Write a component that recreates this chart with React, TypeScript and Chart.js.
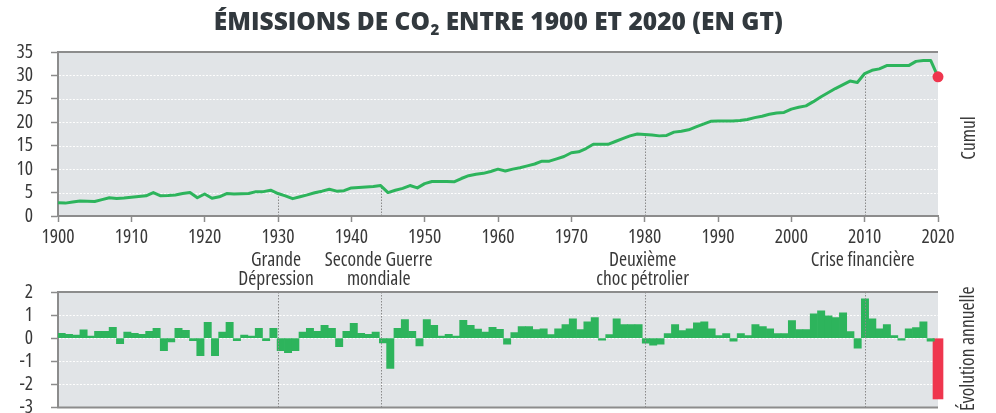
import React, { useEffect, useRef } from "react";
import { Chart, registerables } from "chart.js";

Chart.register(...registerables);

// ---------- DATA ----------
const startYear = 1900;
const endYear = 2020;
const years: number[] = Array.from({ length: endYear - startYear + 1 }, (_, i) => startYear + i);

// Annual emissions (Gt CO2), 1900 -> 2020
const emissions: number[] = [
  2.85, 2.75, 3.0, 3.2, 3.15, 3.1, 3.5, 3.9, 3.75, 3.85,
  4.0, 4.15, 4.3, 5.0, 4.3, 4.35, 4.5, 4.8, 5.0, 3.9,
  4.7, 3.8, 4.1, 4.8, 4.7, 4.75, 4.8, 5.2, 5.2, 5.5,
  4.8, 4.3, 3.7, 4.1, 4.5, 4.95, 5.3, 5.7, 5.3, 5.4,
  6.0, 6.1, 6.2, 6.3, 6.5, 5.0, 5.5, 5.9, 6.5, 6.0,
  6.9, 7.35, 7.35, 7.35, 7.3, 8.0, 8.6, 8.9, 9.1, 9.5,
  10.0, 9.6, 10.0, 10.3, 10.7, 11.1, 11.7, 11.7, 12.2, 12.7,
  13.5, 13.7, 14.4, 15.3, 15.3, 15.3, 15.9, 16.5, 17.1, 17.5,
  17.4, 17.3, 17.1, 17.2, 17.9, 18.1, 18.4, 19.0, 19.6, 20.2,
  20.3, 20.3, 20.3, 20.4, 20.6, 21.0, 21.3, 21.7, 22.0, 22.1,
  22.8, 23.2, 23.5, 24.4, 25.4, 26.3, 27.2, 28.0, 28.8, 28.5,
  30.4, 31.1, 31.4, 32.1, 32.1, 32.1, 32.1, 33.0, 33.2, 33.2,
  29.7,
];

// Annual change (Gt), 1900 -> 2019 (green), 2020 (red)
const annualChange: number[] = [
  0.21, 0.17, 0.13, 0.36, 0.09, 0.3, 0.3, 0.47, -0.24, 0.26,
  0.21, 0.17, 0.3, 0.43, -0.54, -0.16, 0.43, 0.34, -0.11, -0.76,
  0.69, -0.76, 0.26, 0.69, -0.11, 0.13, 0.09, 0.43, -0.11, 0.43,
  -0.54, -0.63, -0.54, 0.26, 0.43, 0.3, 0.56, 0.43, -0.37, 0.3,
  0.64, 0.21, 0.17, 0.26, -0.2, -1.31, 0.43, 0.81, 0.3, -0.33,
  0.81, 0.56, 0.09, 0.17, 0.09, 0.77, 0.56, 0.39, 0.26, 0.47,
  0.38, -0.26, 0.24, 0.5, 0.5, 0.37, 0.41, 0.16, 0.41, 0.59,
  0.84, 0.37, 0.71, 0.89, -0.09, 0.16, 0.84, 0.59, 0.59, 0.59,
  -0.21, -0.3, -0.26, 0.2, 0.59, 0.33, 0.41, 0.67, 0.71, 0.41,
  0.11, 0.2, -0.13, 0.2, 0.11, 0.59, 0.5, 0.41, 0.2, 0.2,
  0.76, 0.37, 0.37, 1.06, 1.19, 0.97, 0.89, 1.1, 0.29, -0.43,
  1.7, 0.84, 0.41, 0.59, 0.11, -0.09, 0.41, 0.46, 0.71, -0.13,
];
const lastYearChange = -2.63;

const eventYears: number[] = [1930, 1944, 1980, 2010];
const eventLabels: string[][] = [
  ["Grande", "Dépression"],
  ["Seconde Guerre", "mondiale"],
  ["Deuxième", "choc pétrolier"],
  ["Crise financière"],
];

const titleParts = ["ÉMISSIONS DE CO", "2", " ENTRE 1900 ET 2020 (EN GT)"];
const topAxisLabel = "Cumul";
const bottomAxisLabel = "Évolution annuelle";

// ---------- STYLE ----------
const FONT = '"Open Sans", "Roboto Condensed", sans-serif';
const FONT_STRETCH = "condensed";
const FONT_SIZE = 19.5;
const CTX_FONT = `${FONT_STRETCH} ${FONT_SIZE}px ${FONT}`;
const TITLE_FONT = '"Open Sans", "DejaVu Sans", sans-serif';
const TEXT = "#383838";
const TITLE_COLOR = "#32393e";
const PLOT_BG = "#e1e4e7";
const AXIS = "#8c8c8c";
const GRID = "rgba(255,255,255,0.95)";
const EVENT = "#8a8a8a";
const GREEN = "#2db45c";
const RED = "#ef364e";

function seg(ctx: CanvasRenderingContext2D, x1: number, y1: number, x2: number, y2: number) {
  ctx.beginPath();
  ctx.moveTo(x1, y1);
  ctx.lineTo(x2, y2);
  ctx.stroke();
}

const fixWidth = (w: number) => (scale: any) => {
  scale.width = w;
  scale.paddingTop = 0;
  scale.paddingBottom = 0;
};
const fixHeight = (h: number) => (scale: any) => {
  scale.height = h;
  scale.paddingLeft = 0;
  scale.paddingRight = 0;
};

const tickFont = { family: FONT, size: FONT_SIZE, weight: FONT_STRETCH as any };

const topDecor = {
  id: "topDecor",
  beforeDraw(chart: any) {
    const { ctx, chartArea: a } = chart;
    ctx.save();
    ctx.fillStyle = PLOT_BG;
    ctx.fillRect(a.left, a.top, a.right - a.left, a.bottom - a.top);
    ctx.restore();
  },
  beforeDatasetsDraw(chart: any) {
    const { ctx, chartArea: a, scales } = chart;
    const x = scales.x;
    const y = scales.y;
    ctx.save();
    ctx.strokeStyle = GRID;
    ctx.lineWidth = 1;
    ctx.setLineDash([2, 1.5]);
    y.ticks.forEach((t: any) => {
      if (t.value <= y.min || t.value >= y.max) return;
      const py = Math.round(y.getPixelForValue(t.value)) + 0.5;
      seg(ctx, a.left + 1, py, a.right, py);
    });
    ctx.strokeStyle = EVENT;
    ctx.setLineDash([1.5, 1.5]);
    eventYears.forEach((yr) => {
      const px = Math.round(x.getPixelForValue(yr)) + 0.5;
      const v = emissions[yr - startYear];
      seg(ctx, px, a.bottom, px, y.getPixelForValue(v));
    });
    ctx.setLineDash([]);
    ctx.strokeStyle = AXIS;
    ctx.lineWidth = 2;
    seg(ctx, a.left - 1, a.top, a.right, a.top);
    ctx.restore();
  },
  afterDraw(chart: any) {
    const { ctx, chartArea: a, width } = chart;
    ctx.save();
    // title with subscript
    const big = `800 24.5px ${TITLE_FONT}`;
    const small = `800 15px ${TITLE_FONT}`;
    ctx.font = big;
    const w1 = ctx.measureText(titleParts[0]).width;
    const w3 = ctx.measureText(titleParts[2]).width;
    ctx.font = small;
    const w2 = ctx.measureText(titleParts[1]).width;
    const x0 = width / 2 - (w1 + w2 + w3) / 2;
    ctx.fillStyle = TITLE_COLOR;
    ctx.textBaseline = "alphabetic";
    ctx.textAlign = "left";
    ctx.font = big;
    ctx.fillText(titleParts[0], x0, 30);
    ctx.font = small;
    ctx.fillText(titleParts[1], x0 + w1 + 0.5, 35);
    ctx.font = big;
    ctx.fillText(titleParts[2], x0 + w1 + w2 + 0.5, 30);
    // side label
    ctx.font = CTX_FONT;
    ctx.fillStyle = TEXT;
    ctx.textAlign = "center";
    ctx.textBaseline = "middle";
    ctx.translate(a.right + 31, (a.top + a.bottom) / 2 + 4);
    ctx.rotate(-Math.PI / 2);
    ctx.fillText(topAxisLabel, 0, 0);
    ctx.restore();
  },
};

const bottomDecor = {
  id: "bottomDecor",
  beforeDraw(chart: any) {
    const { ctx, chartArea: a } = chart;
    ctx.save();
    ctx.fillStyle = PLOT_BG;
    ctx.fillRect(a.left, a.top, a.right - a.left, a.bottom - a.top);
    ctx.restore();
  },
  beforeDatasetsDraw(chart: any) {
    const { ctx, chartArea: a, scales } = chart;
    const y = scales.y;
    ctx.save();
    ctx.strokeStyle = GRID;
    ctx.lineWidth = 1;
    ctx.setLineDash([2, 1.5]);
    y.ticks.forEach((t: any) => {
      if (t.value <= y.min || t.value >= y.max) return;
      const py = Math.round(y.getPixelForValue(t.value)) + 0.5;
      seg(ctx, a.left + 1, py, a.right, py);
    });
    ctx.setLineDash([]);
    ctx.strokeStyle = AXIS;
    ctx.lineWidth = 2;
    seg(ctx, a.left - 1, a.top, a.right, a.top);
    seg(ctx, a.left - 1, a.bottom, a.right, a.bottom);
    ctx.restore();
  },
  afterDatasetsDraw(chart: any) {
    const { ctx, chartArea: a, scales } = chart;
    const xe = scales.xe;
    ctx.save();
    ctx.strokeStyle = EVENT;
    ctx.lineWidth = 1;
    ctx.setLineDash([1.5, 1.5]);
    eventYears.forEach((yr) => {
      const px = Math.round(xe.getPixelForValue(yr)) + 0.5;
      seg(ctx, px, a.top, px, a.bottom);
    });
    ctx.setLineDash([]);
    ctx.font = CTX_FONT;
    ctx.fillStyle = TEXT;
    ctx.textAlign = "center";
    ctx.textBaseline = "alphabetic";
    eventYears.forEach((yr, i) => {
      const px = xe.getPixelForValue(yr) - 2;
      eventLabels[i].forEach((line, j) => {
        ctx.fillText(line, px, a.top - 26 + j * 18.5);
      });
    });
    ctx.translate(a.right + 30, (a.top + a.bottom) / 2 - 1);
    ctx.rotate(-Math.PI / 2);
    ctx.textBaseline = "middle";
    ctx.fillText(bottomAxisLabel, 0, 0);
    ctx.restore();
  },
};

function TopChart() {
  const ref = useRef<HTMLCanvasElement>(null);
  useEffect(() => {
    if (!ref.current) return;
    const chart = new Chart(ref.current, {
      type: "line",
      data: {
        datasets: [
          {
            data: years.map((yr, i) => ({ x: yr, y: emissions[i] })),
            borderColor: GREEN,
            borderWidth: 3,
            tension: 0,
            borderJoinStyle: "round",
            clip: false,
            pointRadius: (c: any) => (c.dataIndex === years.length - 1 ? 5.5 : 0),
            pointBackgroundColor: RED,
            pointBorderWidth: 0,
            pointHoverRadius: 0,
          } as any,
        ],
      },
      options: {
        animation: false,
        responsive: false,
        devicePixelRatio: 1,
        events: [],
        layout: { padding: { left: 0, right: 58, top: 52, bottom: 0 } },
        plugins: { legend: { display: false }, title: { display: false }, tooltip: { enabled: false } },
        scales: {
          x: {
            type: "linear",
            min: startYear,
            max: endYear,
            afterFit: fixHeight(34),
            grid: { drawOnChartArea: false, drawTicks: true, tickLength: 6, tickColor: AXIS, tickWidth: 1.5 },
            border: { display: true, color: AXIS, width: 2 },
            ticks: {
              stepSize: 10,
              autoSkip: false,
              maxRotation: 0,
              padding: 4,
              color: TEXT,
              font: tickFont,
              callback: (v: any) => String(v),
            },
          },
          y: {
            type: "linear",
            min: 0,
            max: 35,
            afterFit: fixWidth(58),
            grid: { drawOnChartArea: false, drawTicks: true, tickLength: 7, tickColor: AXIS, tickWidth: 1.5 },
            border: { display: true, color: AXIS, width: 2 },
            ticks: { stepSize: 5, autoSkip: false, padding: 18, color: TEXT, font: tickFont },
          },
        },
      },
      plugins: [topDecor],
    });
    return () => chart.destroy();
  }, []);
  return <canvas ref={ref} width={996} height={250} style={{ display: "block" }} />;
}

function BottomChart() {
  const ref = useRef<HTMLCanvasElement>(null);
  useEffect(() => {
    if (!ref.current) return;
    const chart = new Chart(ref.current, {
      type: "bar",
      data: {
        datasets: [
          {
            data: annualChange.map((v, i) => ({ x: years[i], y: v })),
            backgroundColor: GREEN,
            borderWidth: 0,
            barPercentage: 1,
            categoryPercentage: 1,
            grouped: false,
            xAxisID: "x",
            yAxisID: "y",
          } as any,
          {
            data: [{ x: endYear, y: lastYearChange }],
            backgroundColor: RED,
            borderWidth: 0,
            barThickness: 10,
            grouped: false,
            clip: false,
            xAxisID: "x",
            yAxisID: "y",
          } as any,
        ],
      },
      options: {
        animation: false,
        responsive: false,
        devicePixelRatio: 1,
        events: [],
        layout: { padding: { left: 0, right: 58, top: 42, bottom: 5.5 } },
        plugins: { legend: { display: false }, title: { display: false }, tooltip: { enabled: false } },
        scales: {
          x: {
            type: "linear",
            min: startYear - 0.5,
            max: endYear,
            offset: false,
            display: true,
            afterFit: fixHeight(0),
            grid: { display: false, drawTicks: false },
            border: { display: false },
            ticks: { display: false },
          },
          xe: {
            type: "linear",
            axis: "x",
            position: "bottom",
            min: startYear,
            max: endYear,
            offset: false,
            display: true,
            afterFit: fixHeight(0),
            grid: { display: false, drawTicks: false },
            border: { display: false },
            ticks: { display: false },
          },
          y: {
            type: "linear",
            min: -3,
            max: 2,
            afterFit: fixWidth(58),
            grid: { drawOnChartArea: false, drawTicks: true, tickLength: 7, tickColor: AXIS, tickWidth: 1.5 },
            border: { display: true, color: AXIS, width: 2 },
            ticks: { stepSize: 1, autoSkip: false, padding: 18, color: TEXT, font: tickFont },
          },
        },
      },
      plugins: [bottomDecor],
    });
    return () => chart.destroy();
  }, []);
  return <canvas ref={ref} width={996} height={163} style={{ display: "block" }} />;
}

export default function App() {
  return (
    <div
      style={{
        position: "fixed",
        left: 0,
        top: 0,
        width: 996,
        height: 413,
        background: "#ffffff",
        overflow: "hidden",
      }}
    >
      <TopChart />
      <BottomChart />
    </div>
  );
}
